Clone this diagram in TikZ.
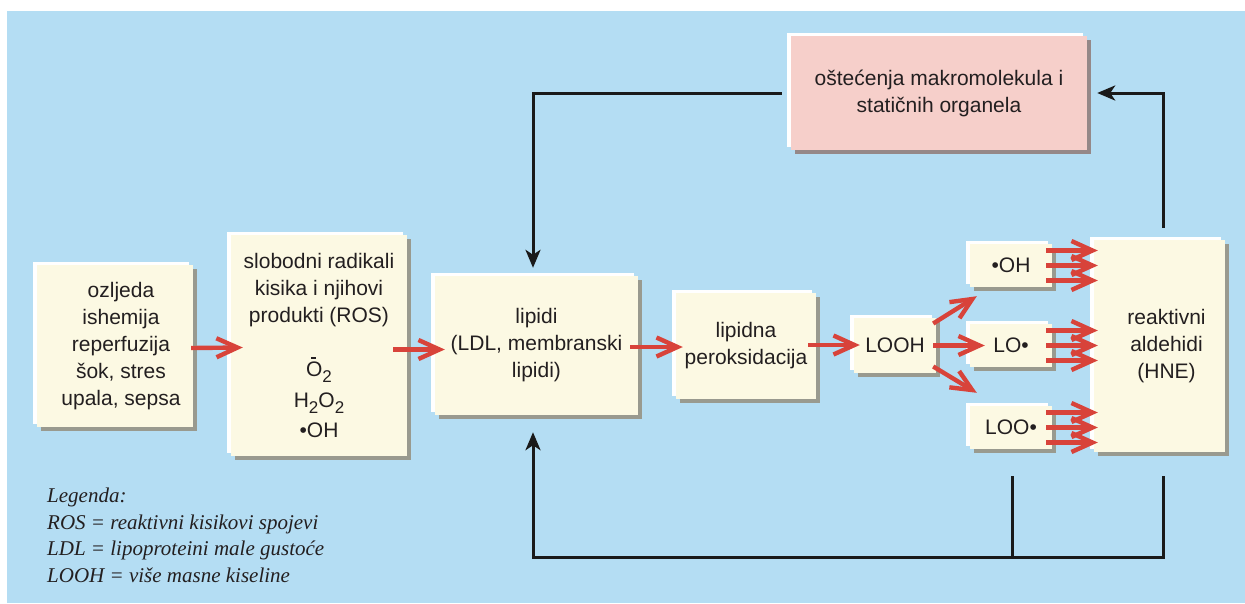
\documentclass[tikz,border=0pt]{standalone}
\usepackage{fontspec}
\setmainfont{Liberation Sans}
\newfontfamily\legfont{Liberation Serif}
\usetikzlibrary{arrows.meta,shadows,calc}
\definecolor{bgblue}{HTML}{B4DDF3}
\definecolor{cream}{HTML}{FCF9E3}
\definecolor{shadowgray}{HTML}{999A8F}
\definecolor{pinkfill}{HTML}{F6CFCA}
\definecolor{pinkshadow}{HTML}{958888}
\definecolor{arrred}{HTML}{D8433A}
\definecolor{lineblack}{HTML}{1A1A1A}
\definecolor{textcol}{HTML}{231F20}
\newcommand\subs[1]{\raisebox{-6pt}{\fontsize{17}{17}\selectfont #1}}
\newcommand\supo{\makebox[0pt][l]{\hspace{5pt}\rule[18pt]{4.5pt}{1.6pt}}}
\tikzset{
  boxbase/.style={inner sep=0pt, align=center, text=textcol, font=\fontsize{21}{27}\selectfont},
  cbox/.style={boxbase, fill=cream,
    general shadow={fill=shadowgray, shadow xshift=4pt, shadow yshift=-4pt},
    general shadow={fill=white, shadow xshift=-4pt, shadow yshift=3pt}},
  pbox/.style={boxbase, fill=pinkfill,
    general shadow={fill=pinkshadow, shadow xshift=4pt, shadow yshift=-4pt},
    general shadow={fill=white, shadow xshift=-4pt, shadow yshift=3pt}},
  redarrow/.style={draw=arrred, line width=4.4pt, -{Straight Barb[length=21pt,width=19pt]}},
  blkarrow/.style={draw=lineblack, line width=3pt, -{Stealth[length=18pt,width=15pt,inset=5pt]}},
  blkline/.style={draw=lineblack, line width=3pt},
}
\begin{document}
\begin{tikzpicture}[x=1pt,y=-1pt]
\useasboundingbox (0,0) rectangle (1245,603);
\fill[white] (0,0) rectangle (1245,603);
\fill[bgblue] (7,11) rectangle (1245,603);

% boxes
\node[cbox, minimum width=156pt, minimum height=162pt] (ozl) at (115,346)
  {\hspace*{12pt}ozljeda\\\hspace*{12pt}ishemija\\\hspace*{12pt}reperfuzija\\\hspace*{12pt}šok, stres\\\hspace*{12pt}upala, sepsa};
\node[cbox, minimum width=176pt, minimum height=221pt] (ros) at (319,345.5)
  {slobodni radikali\\kisika i njihovi\\produkti (ROS)\\[27pt]\supo O\subs{2}\\[4pt]H\subs{2}O\subs{2}\\[3pt]•OH};
\node[cbox, minimum width=203pt, minimum height=139pt] (lip) at (536.5,345.5)
  {lipidi\\(LDL, membranski\\lipidi)};
\node[cbox, minimum width=140pt, minimum height=106pt] (perox) at (746,346)
  {lipidna\\peroksidacija};
\node[cbox, minimum width=82pt, minimum height=55pt] (looh) at (895,345.5) {LOOH};
\node[cbox, minimum width=82pt, minimum height=43pt] (oh) at (1011,265.5) {•OH};
\node[cbox, minimum width=82pt, minimum height=43pt] (lo) at (1011,345.5) {LO•};
\node[cbox, minimum width=82pt, minimum height=43pt] (loo) at (1011,427.5) {LOO•};
\node[cbox, minimum width=131pt, minimum height=212pt] (reak) at (1159.5,346)
  {\hspace*{14pt}reaktivni\\\hspace*{14pt}aldehidi\\\hspace*{14pt}(HNE)};
\node[pbox, minimum width=296pt, minimum height=114pt] (ost) at (939,93)
  {oštećenja makromolekula i\\statičnih organela};

% legend
\node[anchor=north west, inner sep=0pt, align=left, text=textcol,
  font=\legfont\itshape\fontsize{21}{26.5}\selectfont] (legend) at (47,488)
  {Legenda:\\ROS = reaktivni kisikovi spojevi\\LDL = lipoproteini male gustoće\\LOOH = više masne kiseline};

% red arrows
\draw[redarrow] ($(ozl.east)+(-2,2)$) -- ($(ros.west)+(12,2)$);
\draw[redarrow] ($(ros.east)+(-14,4)$) -- ($(lip.west)+(10,4)$);
\draw[redarrow] ($(lip.east)+(-8,1.5)$) -- ($(perox.west)+(7,1)$);
\draw[redarrow] ($(perox.east)+(-8,-1)$) -- ($(looh.west)+(6,-0.5)$);
\draw[redarrow] ($(looh.east)+(-3,-22)$) -- ($(oh.south west)+(7,9)$);
\draw[redarrow] ($(looh.east)+(-3,0)$) -- ($(lo.west)+(15,0)$);
\draw[redarrow] ($(looh.east)+(-3,21)$) -- ($(loo.north west)+(7,-13)$);
\foreach \b in {oh,lo,loo}{
  \foreach \d in {-15,0,15}{
    \draw[redarrow] ($(\b.east)+(-6,\d)$) -- ($(\b.east -| reak.west)+(4,\d)$);
  }
}

% black connectors
\draw[blkarrow] ($(ost.west)+(-9,0)$) -| ($(lip.north)+(-3.5,-8)$);
\draw[blkarrow] ($(reak.north)+(3.5,-12)$) |- ($(ost.east)+(10,0)$);
\draw[blkline] ($(loo.south)+(1,27)$) -- ++(0,81);
\draw[blkarrow] ($(reak.south)+(3.5,24)$) -- ++(0,81) -| ($(lip.south)+(-3.5,17)$);
\end{tikzpicture}
\end{document}
